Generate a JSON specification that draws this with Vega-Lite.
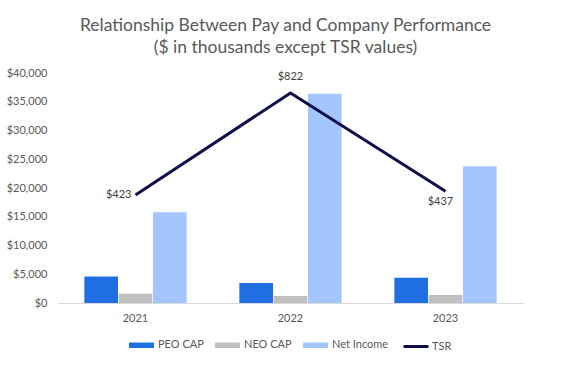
{
  "$schema": "https://vega.github.io/schema/vega-lite/v6.json",
  "autosize": {"type": "none"},
  "width": 465,
  "height": 230,
  "padding": {"left": 58, "top": 73, "right": 53, "bottom": 64},
  "background": "white",
  "config": {
    "view": {"stroke": null},
    "font": "Lato",
    "axis": {"labelFont": "Lato", "labelColor": "#595959", "labelFontSize": 11},
    "legend": {"labelFont": "Lato", "labelColor": "#595959", "labelFontSize": 11}
  },
  "title": {
    "text": ["Relationship Between Pay and Company Performance", "($ in thousands except TSR values)"],
    "font": "Lato",
    "fontSize": 17.5,
    "fontWeight": "normal",
    "color": "#595959",
    "lineHeight": 22,
    "anchor": "middle",
    "dx": -5,
    "offset": 11
  },
  "datasets": {
    "bars": [
      {"year": "2021", "series": "PEO CAP", "value": 4600},
      {"year": "2021", "series": "NEO CAP", "value": 1600},
      {"year": "2021", "series": "Net Income", "value": 15800},
      {"year": "2022", "series": "PEO CAP", "value": 3500},
      {"year": "2022", "series": "NEO CAP", "value": 1200},
      {"year": "2022", "series": "Net Income", "value": 36400},
      {"year": "2023", "series": "PEO CAP", "value": 4400},
      {"year": "2023", "series": "NEO CAP", "value": 1400},
      {"year": "2023", "series": "Net Income", "value": 23800}
    ],
    "tsr": [
      {"year": "2021", "series": "TSR", "tsr": 423},
      {"year": "2022", "series": "TSR", "tsr": 822},
      {"year": "2023", "series": "TSR", "tsr": 437}
    ]
  },
  "layer": [
    {
      "data": {"name": "bars"},
      "mark": {"type": "bar"},
      "encoding": {
        "x": {
          "field": "year", "type": "nominal",
          "scale": {"paddingInner": 0.34, "paddingOuter": 0.17},
          "axis": {"title": null, "labelAngle": 0, "ticks": false, "domainColor": "#D9D9D9", "domainWidth": 1, "labelPadding": 9, "grid": false}
        },
        "xOffset": {
          "field": "series", "type": "nominal",
          "sort": ["PEO CAP", "NEO CAP", "Net Income"],
          "scale": {"paddingInner": 0.02, "paddingOuter": 0}
        },
        "y": {
          "field": "value", "type": "quantitative",
          "scale": {"domain": [0, 40000], "nice": false},
          "axis": {"title": null, "values": [0, 5000, 10000, 15000, 20000, 25000, 30000, 35000, 40000], "format": "$,.0f", "grid": false, "ticks": false, "domain": false, "labelPadding": 11}
        },
        "fill": {
          "field": "series", "type": "nominal",
          "sort": ["PEO CAP", "NEO CAP", "Net Income"],
          "scale": {"domain": ["PEO CAP", "NEO CAP", "Net Income"], "range": ["#1F6FE3", "#BFBFBF", "#A3C6FF"]},
          "legend": {
            "title": null, "orient": "none", "direction": "horizontal",
            "legendX": 71, "legendY": 259.5, "padding": 0,
            "symbolType": "M-1,-0.22H1V0.22H-1Z", "symbolSize": 625, "symbolStrokeWidth": 0,
            "labelOffset": 4, "columnPadding": 11
          }
        }
      }
    },
    {
      "data": {"name": "tsr"},
      "layer": [
        {
          "mark": {"type": "line", "strokeWidth": 3},
          "encoding": {
            "x": {"field": "year", "type": "nominal"},
            "y": {"field": "tsr", "type": "quantitative", "scale": {"domain": [0, 900], "nice": false}, "axis": null},
            "stroke": {
              "field": "series", "type": "nominal",
              "scale": {"domain": ["TSR"], "range": ["#0E0E4A"]},
              "legend": {
                "title": null, "orient": "none", "direction": "horizontal",
                "legendX": 344, "legendY": 259.5, "padding": 0,
                "symbolType": "stroke", "symbolSize": 625, "symbolStrokeWidth": 3,
                "labelOffset": 2
              }
            }
          }
        },
        {
          "transform": [{"filter": "datum.year == '2021'"}],
          "mark": {"type": "text", "align": "right", "baseline": "middle", "dx": -4, "font": "Lato", "fontSize": 11, "color": "#404040"},
          "encoding": {
            "x": {"field": "year", "type": "nominal"},
            "y": {"field": "tsr", "type": "quantitative", "axis": null},
            "text": {"field": "tsr", "type": "quantitative", "format": "$,.0f"}
          }
        },
        {
          "transform": [{"filter": "datum.year == '2022'"}],
          "mark": {"type": "text", "align": "center", "baseline": "bottom", "dy": -11, "font": "Lato", "fontSize": 11, "color": "#404040"},
          "encoding": {
            "x": {"field": "year", "type": "nominal"},
            "y": {"field": "tsr", "type": "quantitative", "axis": null},
            "text": {"field": "tsr", "type": "quantitative", "format": "$,.0f"}
          }
        },
        {
          "transform": [{"filter": "datum.year == '2023'"}],
          "mark": {"type": "text", "align": "center", "baseline": "top", "dx": -5, "dy": 5, "font": "Lato", "fontSize": 11, "color": "#404040"},
          "encoding": {
            "x": {"field": "year", "type": "nominal"},
            "y": {"field": "tsr", "type": "quantitative", "axis": null},
            "text": {"field": "tsr", "type": "quantitative", "format": "$,.0f"}
          }
        }
      ]
    }
  ],
  "resolve": {"scale": {"y": "independent"}}
}
